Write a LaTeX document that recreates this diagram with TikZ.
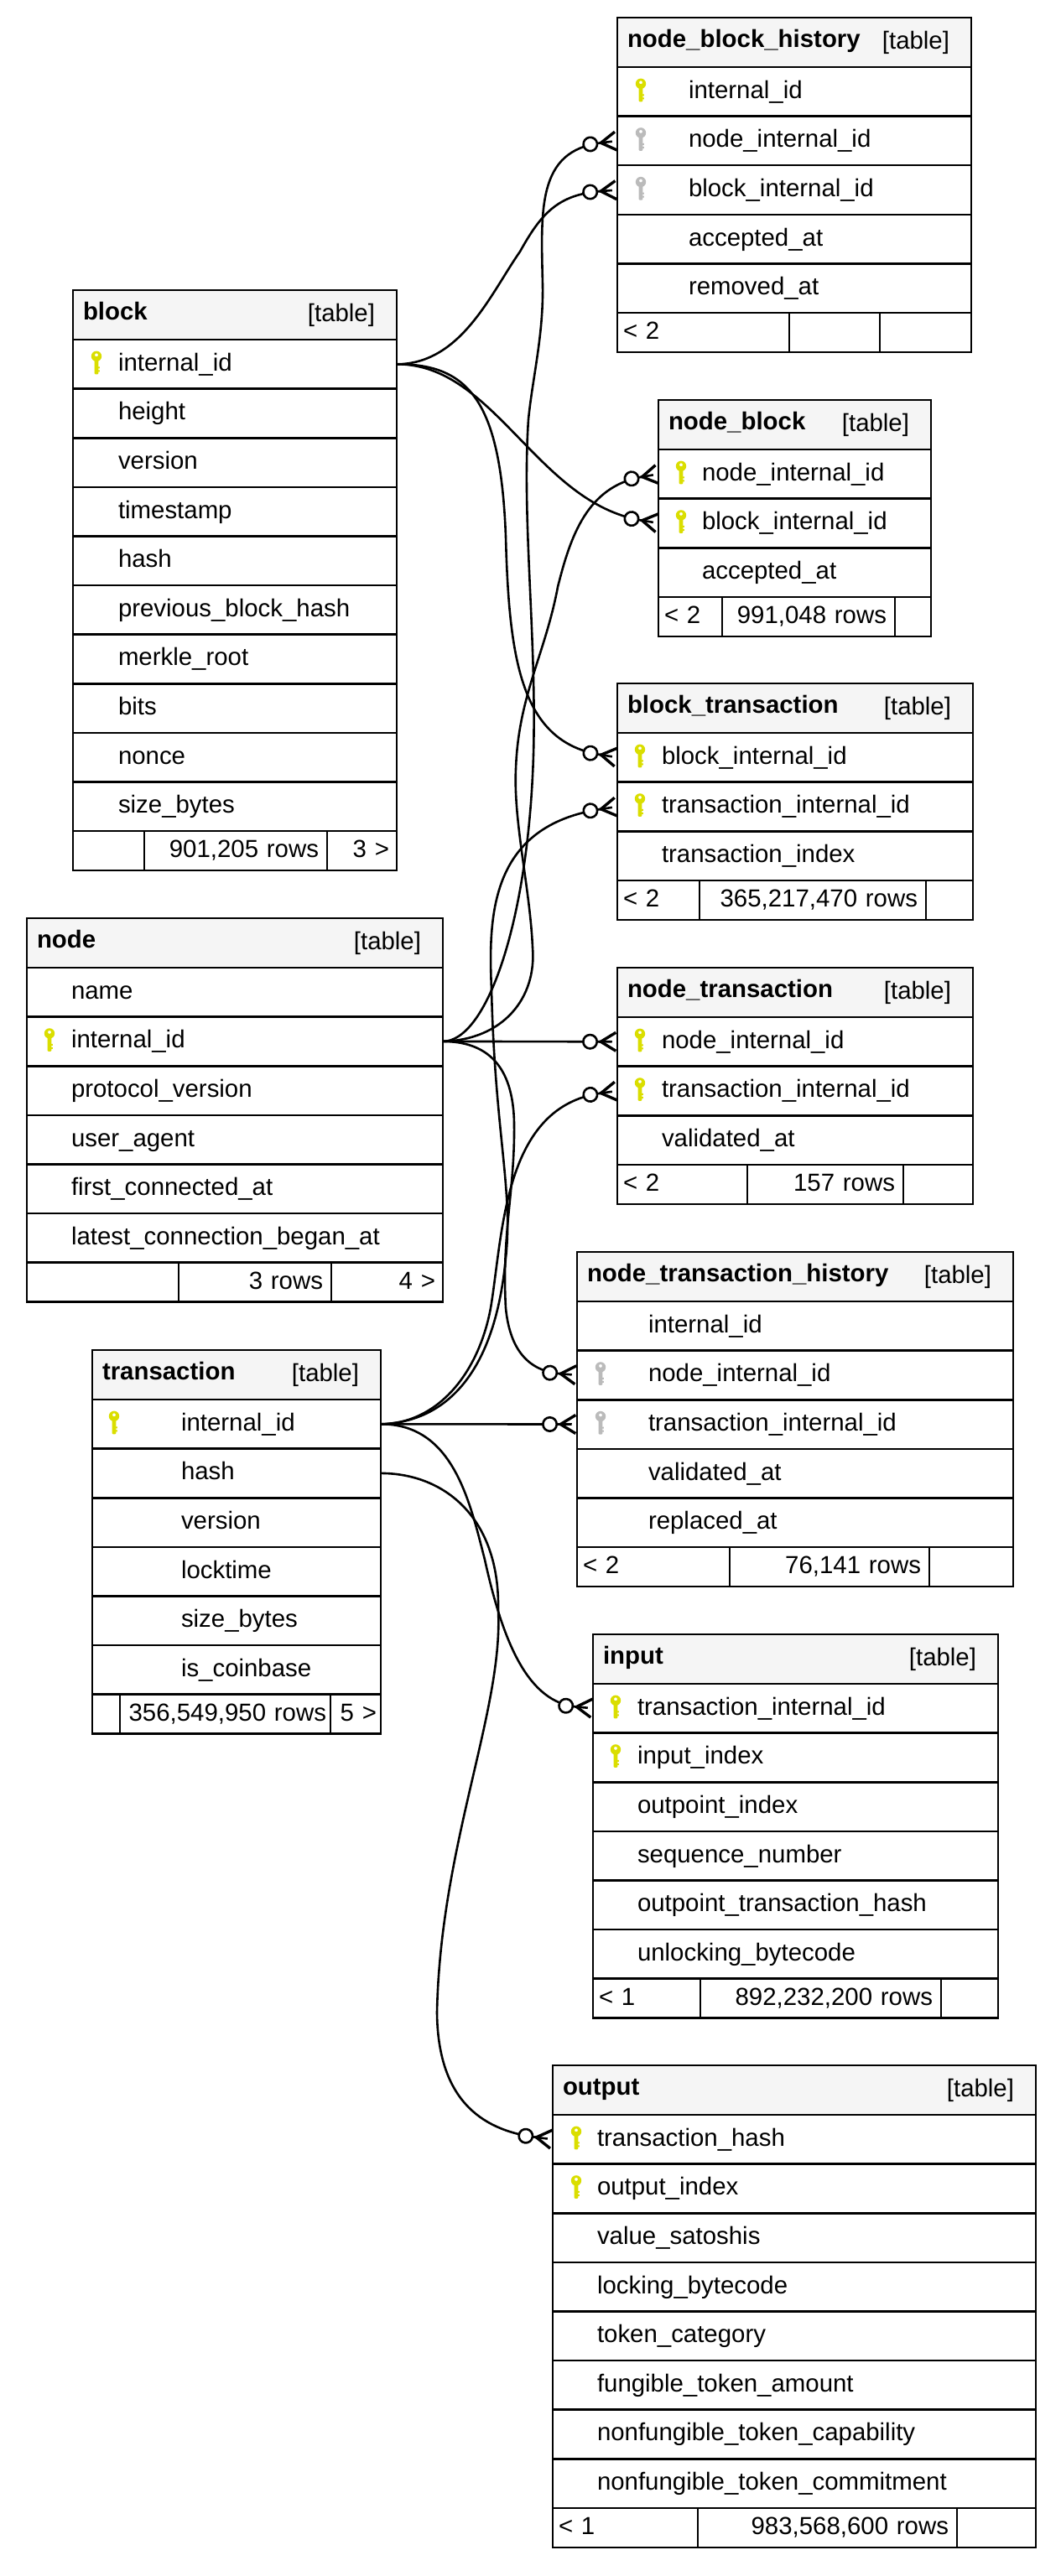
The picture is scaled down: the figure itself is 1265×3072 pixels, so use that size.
\documentclass[tikz,border=0pt]{standalone}
\usepackage{fontspec}
\setmainfont{Liberation Sans}
\usepackage{xcolor}
\usepackage{tikz}
\usetikzlibrary{arrows.meta,positioning}
\definecolor{headgray}{HTML}{F5F5F5}
\definecolor{keyyellow}{HTML}{DADE00}
\definecolor{keygray}{HTML}{BBBBBB}

\begin{document}
\begin{tikzpicture}[
      x=1pt, y=-1pt, line width=2.6pt,
      every node/.style={font=\fontsize{29.4}{34}\selectfont},
      head/.style={draw, fill=headgray, inner sep=0pt, outer sep=0pt, anchor=north west,
                   text width=#1, minimum height=59pt, text height=20pt, text depth=8pt,
                   align=left, font=\fontsize{29.4}{34}\selectfont\bfseries,
                   execute at begin node={\hspace*{12pt}}},
      tag/.style={inner sep=0pt, outer sep=0pt, anchor=east, text height=20pt, text depth=4pt},
      fieldrow/.style 2 args={draw, inner sep=0pt, outer sep=0pt, text width=#1,
                   minimum height=58.6pt, text height=20pt, text depth=4pt, align=left,
                   execute at begin node={\hspace*{#2}}},
      blkrow/.style={fieldrow={386pt}{54pt}},
      nbhrow/.style={fieldrow={422pt}{85pt}},
      nbkrow/.style={fieldrow={325pt}{52pt}},
      btxrow/.style={fieldrow={424pt}{53pt}},
      ndrow/.style={fieldrow={496pt}{53pt}},
      ntxrow/.style={fieldrow={424pt}{53pt}},
      nthrow/.style={fieldrow={520pt}{85pt}},
      txrow/.style={fieldrow={344pt}{106pt}},
      inrow/.style={fieldrow={483pt}{53pt}},
      outrow/.style={fieldrow={576pt}{53pt}},
      footl/.style={draw, inner xsep=7pt, inner ysep=0pt, outer sep=0pt, anchor=north west,
                    text width=#1-14pt, minimum height=47pt, text height=20pt, text depth=4pt, align=left},
      footm/.style={draw, inner xsep=10pt, inner ysep=0pt, outer sep=0pt, anchor=north west,
                    text width=#1-20pt, minimum height=47pt, text height=20pt, text depth=4pt, align=right},
      footr/.style={draw, inner xsep=9pt, inner ysep=0pt, outer sep=0pt, anchor=north west,
                    text width=#1-18pt, minimum height=47pt, text height=20pt, text depth=4pt, align=right},
      pics/keyicon/.style={code={
        \fill[#1, even odd rule] (0,-9.5) circle (6.2pt) (0,-11) circle (2pt);
        \fill[#1, rounded corners=1pt] (-2.3,-5) rectangle (2.3,12);
        \fill[#1] (2,3) rectangle (3.8,5) (2,7) rectangle (3.8,9);
      }},
      crow/.style={-{Circle[open,fill=white,length=19pt,width=19pt,sep=0pt]
                     Rectangle[length=18pt,width=2.6pt,sep=-18pt]
                     Straight Barb[reversed,length=18pt,width=22pt,line width=3.4pt]}}
    ]
    \useasboundingbox (0,0) rectangle (1265,3072);

    % block
    \node[head=386pt] (blk) at (87,346) {block};
    \node[tag] (blktag) at ([xshift=-26pt]blk.east) {[table]};
    \node[blkrow, below=0pt of blk] (blkid) {internal\_id};
    \node[blkrow, below=0pt of blkid] (blkheight) {height};
    \node[blkrow, below=0pt of blkheight] (blkversion) {version};
    \node[blkrow, below=0pt of blkversion] (blktime) {timestamp};
    \node[blkrow, below=0pt of blktime] (blkhash) {hash};
    \node[blkrow, below=0pt of blkhash] (blkprev) {previous\_block\_hash};
    \node[blkrow, below=0pt of blkprev] (blkroot) {merkle\_root};
    \node[blkrow, below=0pt of blkroot] (blkbits) {bits};
    \node[blkrow, below=0pt of blkbits] (blknonce) {nonce};
    \node[blkrow, below=0pt of blknonce] (blksize) {size\_bytes};
    \node[footl=85pt] (blkf1) at (blksize.south west) {};
    \node[footm=218pt] (blkf2) at (blkf1.north east) {901,205 rows};
    \node[footr=83pt] (blkf3) at (blkf2.north east) {3 >};
    \pic at ([xshift=28pt]blkid.west) {keyicon=keyyellow};

    % node_block_history
    \node[head=422pt] (nbh) at (736,21) {node\_block\_history};
    \node[tag] (nbhtag) at ([xshift=-26pt]nbh.east) {[table]};
    \node[nbhrow, below=0pt of nbh] (nbhid) {internal\_id};
    \node[nbhrow, below=0pt of nbhid] (nbhnode) {node\_internal\_id};
    \node[nbhrow, below=0pt of nbhnode] (nbhblock) {block\_internal\_id};
    \node[nbhrow, below=0pt of nbhblock] (nbhaccept) {accepted\_at};
    \node[nbhrow, below=0pt of nbhaccept] (nbhremove) {removed\_at};
    \node[footl=205pt] (nbhf1) at (nbhremove.south west) {< 2};
    \node[footm=108pt] (nbhf2) at (nbhf1.north east) {};
    \node[footr=109pt] (nbhf3) at (nbhf2.north east) {};
    \pic at ([xshift=28pt]nbhid.west) {keyicon=keyyellow};
    \pic at ([xshift=28pt]nbhnode.west) {keyicon=keygray};
    \pic at ([xshift=28pt]nbhblock.west) {keyicon=keygray};

    % node_block
    \node[head=325pt] (nbk) at (785,477) {node\_block};
    \node[tag] (nbktag) at ([xshift=-26pt]nbk.east) {[table]};
    \node[nbkrow, below=0pt of nbk] (nbknode) {node\_internal\_id};
    \node[nbkrow, below=0pt of nbknode] (nbkblock) {block\_internal\_id};
    \node[nbkrow, below=0pt of nbkblock] (nbkaccept) {accepted\_at};
    \node[footl=76pt] (nbkf1) at (nbkaccept.south west) {< 2};
    \node[footm=206pt] (nbkf2) at (nbkf1.north east) {991,048 rows};
    \node[footr=43pt] (nbkf3) at (nbkf2.north east) {};
    \pic at ([xshift=27pt]nbknode.west) {keyicon=keyyellow};
    \pic at ([xshift=27pt]nbkblock.west) {keyicon=keyyellow};

    % block_transaction
    \node[head=424pt] (btx) at (736,815) {block\_transaction};
    \node[tag] (btxtag) at ([xshift=-26pt]btx.east) {[table]};
    \node[btxrow, below=0pt of btx] (btxblock) {block\_internal\_id};
    \node[btxrow, below=0pt of btxblock] (btxtrans) {transaction\_internal\_id};
    \node[btxrow, below=0pt of btxtrans] (btxindex) {transaction\_index};
    \node[footl=98pt] (btxf1) at (btxindex.south west) {< 2};
    \node[footm=270pt] (btxf2) at (btxf1.north east) {365,217,470 rows};
    \node[footr=56pt] (btxf3) at (btxf2.north east) {};
    \pic at ([xshift=27pt]btxblock.west) {keyicon=keyyellow};
    \pic at ([xshift=27pt]btxtrans.west) {keyicon=keyyellow};

    % node
    \node[head=496pt] (nd) at (32,1095) {node};
    \node[tag] (ndtag) at ([xshift=-26pt]nd.east) {[table]};
    \node[ndrow, below=0pt of nd] (ndname) {name};
    \node[ndrow, below=0pt of ndname] (ndid) {internal\_id};
    \node[ndrow, below=0pt of ndid] (ndproto) {protocol\_version};
    \node[ndrow, below=0pt of ndproto] (ndagent) {user\_agent};
    \node[ndrow, below=0pt of ndagent] (ndfirst) {first\_connected\_at};
    \node[ndrow, below=0pt of ndfirst] (ndlatest) {latest\_connection\_began\_at};
    \node[footl=181pt] (ndf1) at (ndlatest.south west) {};
    \node[footm=182pt] (ndf2) at (ndf1.north east) {3 rows};
    \node[footr=133pt] (ndf3) at (ndf2.north east) {4 >};
    \pic at ([xshift=27pt]ndid.west) {keyicon=keyyellow};

    % node_transaction
    \node[head=424pt] (ntx) at (736,1154) {node\_transaction};
    \node[tag] (ntxtag) at ([xshift=-26pt]ntx.east) {[table]};
    \node[ntxrow, below=0pt of ntx] (ntxnode) {node\_internal\_id};
    \node[ntxrow, below=0pt of ntxnode] (ntxtrans) {transaction\_internal\_id};
    \node[ntxrow, below=0pt of ntxtrans] (ntxvalid) {validated\_at};
    \node[footl=155pt] (ntxf1) at (ntxvalid.south west) {< 2};
    \node[footm=186pt] (ntxf2) at (ntxf1.north east) {157 rows};
    \node[footr=83pt] (ntxf3) at (ntxf2.north east) {};
    \pic at ([xshift=27pt]ntxnode.west) {keyicon=keyyellow};
    \pic at ([xshift=27pt]ntxtrans.west) {keyicon=keyyellow};

    % node_transaction_history
    \node[head=520pt] (nth) at (688,1493) {node\_transaction\_history};
    \node[tag] (nthtag) at ([xshift=-26pt]nth.east) {[table]};
    \node[nthrow, below=0pt of nth] (nthid) {internal\_id};
    \node[nthrow, below=0pt of nthid] (nthnode) {node\_internal\_id};
    \node[nthrow, below=0pt of nthnode] (nthtrans) {transaction\_internal\_id};
    \node[nthrow, below=0pt of nthtrans] (nthvalid) {validated\_at};
    \node[nthrow, below=0pt of nthvalid] (nthreplace) {replaced\_at};
    \node[footl=182pt] (nthf1) at (nthreplace.south west) {< 2};
    \node[footm=238pt] (nthf2) at (nthf1.north east) {76,141 rows};
    \node[footr=100pt] (nthf3) at (nthf2.north east) {};
    \pic at ([xshift=28pt]nthnode.west) {keyicon=keygray};
    \pic at ([xshift=28pt]nthtrans.west) {keyicon=keygray};

    % transaction
    \node[head=344pt] (tx) at (110,1610) {transaction};
    \node[tag] (txtag) at ([xshift=-26pt]tx.east) {[table]};
    \node[txrow, below=0pt of tx] (txid) {internal\_id};
    \node[txrow, below=0pt of txid] (txhash) {hash};
    \node[txrow, below=0pt of txhash] (txversion) {version};
    \node[txrow, below=0pt of txversion] (txlock) {locktime};
    \node[txrow, below=0pt of txlock] (txsize) {size\_bytes};
    \node[txrow, below=0pt of txsize] (txcoin) {is\_coinbase};
    \node[footl=33pt] (txf1) at (txcoin.south west) {};
    \node[footm=251pt, inner xsep=5pt, text width=241pt] (txf2) at (txf1.north east) {356,549,950 rows};
    \node[footr=60pt, inner xsep=5pt, text width=50pt] (txf3) at (txf2.north east) {5 >};
    \pic at ([xshift=26pt]txid.west) {keyicon=keyyellow};

    % input
    \node[head=483pt] (in) at (707,1949) {input};
    \node[tag] (intag) at ([xshift=-26pt]in.east) {[table]};
    \node[inrow, below=0pt of in] (intrans) {transaction\_internal\_id};
    \node[inrow, below=0pt of intrans] (inindex) {input\_index};
    \node[inrow, below=0pt of inindex] (inpoint) {outpoint\_index};
    \node[inrow, below=0pt of inpoint] (inseq) {sequence\_number};
    \node[inrow, below=0pt of inseq] (inhash) {outpoint\_transaction\_hash};
    \node[inrow, below=0pt of inhash] (inbyte) {unlocking\_bytecode};
    \node[footl=128pt] (inf1) at (inbyte.south west) {< 1};
    \node[footm=287pt] (inf2) at (inf1.north east) {892,232,200 rows};
    \node[footr=68pt] (inf3) at (inf2.north east) {};
    \pic at ([xshift=27pt]intrans.west) {keyicon=keyyellow};
    \pic at ([xshift=27pt]inindex.west) {keyicon=keyyellow};

    % output
    \node[head=576pt] (out) at (659,2463) {output};
    \node[tag] (outtag) at ([xshift=-26pt]out.east) {[table]};
    \node[outrow, below=0pt of out] (outhash) {transaction\_hash};
    \node[outrow, below=0pt of outhash] (outindex) {output\_index};
    \node[outrow, below=0pt of outindex] (outvalue) {value\_satoshis};
    \node[outrow, below=0pt of outvalue] (outbyte) {locking\_bytecode};
    \node[outrow, below=0pt of outbyte] (outcat) {token\_category};
    \node[outrow, below=0pt of outcat] (outamount) {fungible\_token\_amount};
    \node[outrow, below=0pt of outamount] (outcap) {nonfungible\_token\_capability};
    \node[outrow, below=0pt of outcap] (outcommit) {nonfungible\_token\_commitment};
    \node[footl=173pt] (outf1) at (outcommit.south west) {< 1};
    \node[footm=309pt] (outf2) at (outf1.north east) {983,568,600 rows};
    \node[footr=94pt] (outf3) at (outf2.north east) {};
    \pic at ([xshift=28pt]outhash.west) {keyicon=keyyellow};
    \pic at ([xshift=28pt]outindex.west) {keyicon=keyyellow};

    % connectors
    \draw[crow] (blkid.east) .. controls (550,434) and (585,350) .. (620,300)
                .. controls (645,255) and (665,232) .. (nbhblock.west);
    \draw[crow] (blkid.east) .. controls (590,434) and (640,600) .. (nbkblock.west);
    \draw[crow] (blkid.east) .. controls (560,434) and (597,480) .. (603,640)
                .. controls (607,790) and (622,885) .. (btxblock.west);

    \draw[crow] (ndid.east) .. controls (580,1242) and (630,1100) .. (636,900)
                .. controls (640,760) and (622,620) .. (630,500)
                .. controls (635,450) and (648,400) .. (647,340)
                .. controls (645,250) and (640,180) .. (nbhnode.west);
    \draw[crow] (ndid.east) .. controls (600,1240) and (640,1190) .. (635,1130)
                .. controls (632,1060) and (612,980) .. (615,917)
                .. controls (618,830) and (650,780) .. (665,700)
                .. controls (680,640) and (700,580) .. (nbknode.west);
    \draw[crow] (ndid.east) -- (ntxnode.west);
    \draw[crow] (ndid.east) .. controls (580,1242) and (612,1270) .. (613,1340)
                .. controls (614,1420) and (598,1470) .. (603,1560)
                .. controls (608,1610) and (630,1635) .. (nthnode.west);

    \draw[crow] (txid.east) .. controls (530,1696) and (590,1640) .. (603,1500)
                .. controls (612,1420) and (590,1350) .. (586,1180)
                .. controls (582,1090) and (585,985) .. (btxtrans.west);
    \draw[crow] (txid.east) .. controls (520,1698) and (570,1640) .. (585,1560)
                .. controls (600,1470) and (600,1320) .. (ntxtrans.west);
    \draw[crow] (txid.east) -- (nthtrans.west);
    \draw[crow] (txid.east) .. controls (540,1698) and (560,1790) .. (578,1860)
                .. controls (600,1960) and (630,2030) .. (intrans.west);
    \draw[crow] (txhash.east) .. controls (530,1757) and (596,1810) .. (594,1920)
                .. controls (600,2040) and (525,2200) .. (521,2400)
                .. controls (522,2500) and (570,2540) .. (outhash.west);
\end{tikzpicture}
\end{document}
